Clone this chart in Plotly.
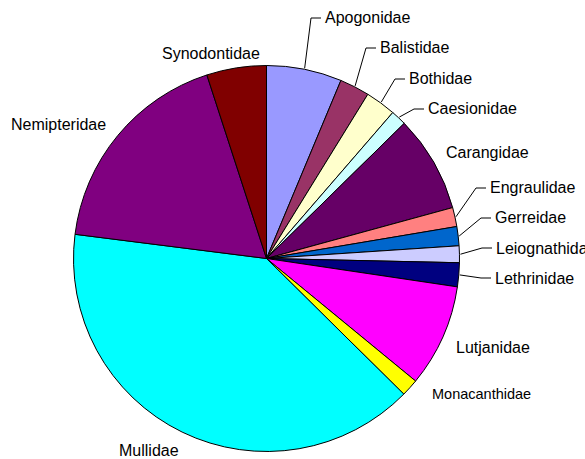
import math
import plotly.graph_objects as go

# Fish families, clockwise from 12 o'clock (percent of catch)
families = ["Apogonidae", "Balistidae", "Bothidae", "Caesionidae", "Carangidae",
            "Engraulidae", "Gerreidae", "Leiognathidae", "Lethrinidae", "Lutjanidae",
            "Monacanthidae", "Mullidae", "Nemipteridae", "Synodontidae"]
shares = [6.3, 2.5, 2.55, 1.3, 8.1, 1.6, 1.6, 1.4, 2.0, 8.6, 1.45, 39.6, 18.0, 5.0]
colors = ["#9999FF", "#993366", "#FFFFCC", "#CCFFFF", "#660066", "#FF8080", "#0066CC",
          "#CCCCFF", "#000080", "#FF00FF", "#FFFF00", "#00FFFF", "#800080", "#800000"]

W, H = 585, 459
cx, cy, r = 266.5, 258.5, 193  # pie centre / radius in pixels

# label placement in pixels: (left x, middle y, leader line?, font size)
label_pos = {
    "Apogonidae": (323, 18, True, 16),
    "Balistidae": (378, 48, True, 16),
    "Bothidae": (407, 79, True, 16),
    "Caesionidae": (426, 109, True, 16),
    "Carangidae": (444, 153, False, 16),
    "Engraulidae": (488, 188, True, 16),
    "Gerreidae": (493, 218, True, 16),
    "Leiognathidae": (494, 248, True, 16),
    "Lethrinidae": (493, 278, True, 16),
    "Lutjanidae": (454, 347, False, 16),
    "Monacanthidae": (430, 394, False, 14.5),
    "Mullidae": (117, 450, False, 16),
    "Nemipteridae": (9, 124, False, 16),
    "Synodontidae": (160, 53, False, 16),
}


def px(x):
    return x / W


def py(y):
    return 1 - y / H


fig = go.Figure(go.Pie(
    labels=families, values=shares, sort=False, direction="clockwise", rotation=0,
    marker=dict(colors=colors, line=dict(color="black", width=1)),
    textinfo="none", hoverinfo="label+percent", showlegend=False,
    domain=dict(x=[px(cx - r), px(cx + r)], y=[py(cy + r), py(cy - r)]),
))

total = sum(shares)
start = 0.0
for name, val in zip(families, shares):
    mid = (start + val / 2) / total * 2 * math.pi
    start += val
    lx, ly, leader, size = label_pos[name]
    fig.add_annotation(x=px(lx), y=py(ly), xref="paper", yref="paper", text=name,
                       showarrow=False, xanchor="left", yanchor="middle",
                       font=dict(size=size, color="black"))
    if leader:
        tx = cx + (r + 1) * math.sin(mid)
        ty = cy - (r + 1) * math.cos(mid)
        path = f"M {px(lx - 2)} {py(ly)} L {px(lx - 12)} {py(ly)} L {px(tx)} {py(ty)}"
        fig.add_shape(type="path", path=path, xref="paper", yref="paper",
                      line=dict(color="black", width=1))

fig.update_layout(
    width=W, height=H,
    margin=dict(l=0, r=0, t=0, b=0),
    paper_bgcolor="white", plot_bgcolor="white",
    font=dict(family="Liberation Sans, Arial, sans-serif"),
)

# drop the page's default body margin so the chart sits at the window corner
fig.write_html("out.html", config={"displayModeBar": False},
               post_script="document.body.style.margin = '0';")
